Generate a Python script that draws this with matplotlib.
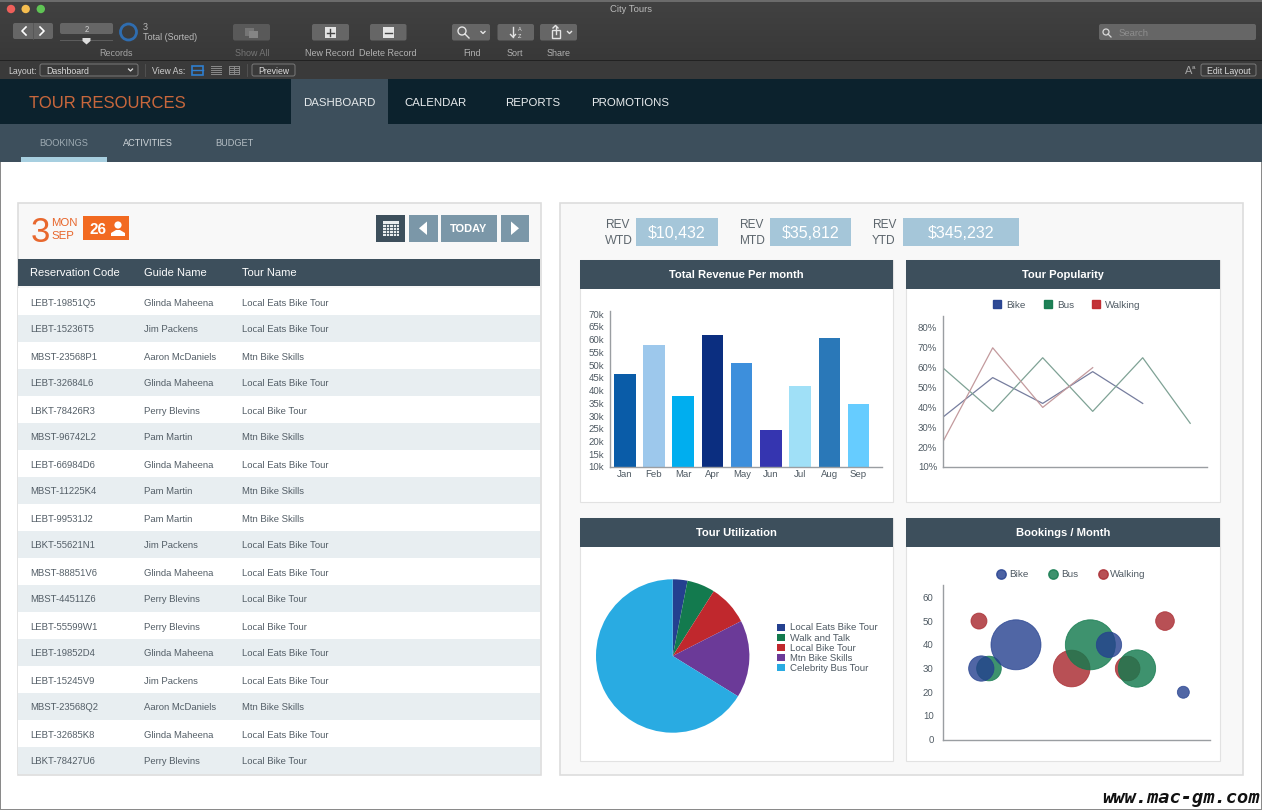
import numpy as np
import matplotlib
matplotlib.use("Agg")
import matplotlib.pyplot as plt
from matplotlib.patches import Rectangle, FancyBboxPatch, Circle, Polygon, Patch
from matplotlib.lines import Line2D

plt.rcParams['font.family'] = ['Liberation Sans', 'DejaVu Sans']
plt.rcParams['text.hinting'] = 'no_autohint'

W, H = 1262, 810

# table
res_codes = ["LEBT-19851Q5", "LEBT-15236T5", "MBST-23568P1", "LEBT-32684L6", "LBKT-78426R3", "MBST-96742L2",
             "LEBT-66984D6", "MBST-11225K4", "LEBT-99531J2", "LBKT-55621N1", "MBST-88851V6", "MBST-44511Z6",
             "LEBT-55599W1", "LEBT-19852D4", "LEBT-15245V9", "MBST-23568Q2", "LEBT-32685K8", "LBKT-78427U6"]
guides = ["Glinda Maheena", "Jim Packens", "Aaron McDaniels", "Glinda Maheena", "Perry Blevins", "Pam Martin",
          "Glinda Maheena", "Pam Martin", "Pam Martin", "Jim Packens", "Glinda Maheena", "Perry Blevins",
          "Perry Blevins", "Glinda Maheena", "Jim Packens", "Aaron McDaniels", "Glinda Maheena", "Perry Blevins"]
tours = ["Local Eats Bike Tour", "Local Eats Bike Tour", "Mtn Bike Skills", "Local Eats Bike Tour", "Local Bike Tour",
         "Mtn Bike Skills", "Local Eats Bike Tour", "Mtn Bike Skills", "Mtn Bike Skills", "Local Eats Bike Tour",
         "Local Eats Bike Tour", "Local Bike Tour", "Local Bike Tour", "Local Eats Bike Tour", "Local Eats Bike Tour",
         "Mtn Bike Skills", "Local Eats Bike Tour", "Local Bike Tour"]

# revenue bars
months = ["Jan", "Feb", "Mar", "Apr", "May", "Jun", "Jul", "Aug", "Sep"]
revenue = [46.6, 57.7, 37.7, 61.7, 50.7, 24.6, 41.7, 60.7, 34.6]
bar_colors = ["#0a5ca8", "#9dc8ec", "#00aeef", "#0b2e80", "#3d8fdc", "#3535b0", "#a0e0f7", "#2a78b8", "#66ccff"]

# popularity lines
bike_x = [0, 1, 2, 3, 4]
bike_pop = [35, 55, 42, 58, 42]
bus_x = [0, 1, 2, 3, 4, 4.95]
bus_pop = [60, 38, 65, 38, 65, 32]
walk_x = [0, 1, 2, 3]
walk_pop = [22.5, 70, 40, 60]

# pie
pie_names = ["Local Eats Bike Tour", "Walk and Talk", "Local Bike Tour", "Mtn Bike Skills", "Celebrity Bus Tour"]
pie_values = [3.1, 5.9, 8.5, 16.3, 66.2]
pie_colors = ["#24408f", "#137a4e", "#c0282d", "#6b3a98", "#29abe2"]

# bubbles
bike_bx = [11.4, 21.8, 49.7, 72.0]
bike_by = [30, 40, 40, 20]
bike_bs = [38, 75, 38, 18]
bus_bx = [13.7, 44.1, 58.1]
bus_by = [30, 40, 30]
bus_bs = [37, 75, 56]
walk_bx = [10.7, 38.5, 55.3, 66.5]
walk_by = [50, 30, 30, 50]
walk_bs = [24, 55, 37, 28]

SLATE = "#3d4f5c"
BLUEGREY = "#7b97a8"
TEXT = "#4f5a63"
AXIS = "#9a9ea2"

fig = plt.figure(figsize=(W / 100, H / 100), dpi=100, facecolor="white")
ui = fig.add_axes([0, 0, 1, 1])
ui.set_xlim(0, W)
ui.set_ylim(H, 0)
ui.axis("off")


def box(x0, y0, x1, y1, color, edge="none", lw=0.0, z=1):
    r = Rectangle((x0, y0), x1 - x0, y1 - y0, facecolor=color, edgecolor=edge, linewidth=lw, zorder=z)
    ui.add_patch(r)
    return r


def rbox(x0, y0, x1, y1, color, edge="none", lw=0.0, z=2, rad=2):
    r = FancyBboxPatch((x0 + rad, y0 + rad), x1 - x0 - 2 * rad, y1 - y0 - 2 * rad,
                       boxstyle="round,pad=%d" % rad, facecolor=color, edgecolor=edge, linewidth=lw, zorder=z)
    ui.add_patch(r)
    return r


def label(x, y, s, size=7, color=TEXT, ha="left", **kw):
    return ui.text(x, y, s, fontsize=size, color=color, ha=ha, va="center_baseline", zorder=5, **kw)


def px_axes(x0, y0, x1, y1):
    return fig.add_axes([x0 / W, 1 - y1 / H, (x1 - x0) / W, (y1 - y0) / H])


def clean_axes(ax):
    ax.patch.set_alpha(0)
    ax.spines["top"].set_visible(False)
    ax.spines["right"].set_visible(False)
    ax.spines["left"].set_color(AXIS)
    ax.spines["bottom"].set_color(AXIS)
    ax.spines["left"].set_linewidth(1.0)
    ax.spines["bottom"].set_linewidth(1.0)
    ax.tick_params(length=0, labelsize=6.9, labelcolor=TEXT, pad=4)


# window chrome
grad = np.linspace(0, 1, 60).reshape(-1, 1)
ui.imshow(grad, extent=(0, W, 60, 0), cmap=matplotlib.colors.LinearSegmentedColormap.from_list("tb", ["#424242", "#383838"]),
          aspect="auto", zorder=0)
ui.set_xlim(0, W)
ui.set_ylim(H, 0)
box(0, 0, W, 1.5, "#6b6b6b")
box(0, 60, W, 79, "#3a3a3a")
box(0, 59.5, W, 61, "#222222")
for x, c in zip([11, 25.7, 40.8], ["#ee5f5a", "#f5bd4f", "#5fc454"]):
    ui.add_patch(Circle((x, 9), 4.2, facecolor=c, zorder=3))
label(631, 9, "City Tours", 6.8, "#bdbdbd", ha="center")

# records controls
rbox(13, 23, 53, 39, "#666666")
ui.plot([33, 33], [23, 39], color="#555555", lw=0.6, zorder=3)
ui.plot([26, 22, 26], [27, 31, 35], color="white", lw=1.2, zorder=4)
ui.plot([40, 44, 40], [27, 31, 35], color="white", lw=1.2, zorder=4)
rbox(60, 23, 113, 34, "#666666")
label(86.5, 29, "2", 5.5, "#d8d8d8", ha="center")
box(60, 39.5, 113, 40.5, "#5c5c5c", z=2)
ui.add_patch(Polygon([[82.5, 38], [90.5, 38], [90.5, 41], [86.5, 44.5], [82.5, 41]], facecolor="#dddddd", zorder=4))
ui.add_patch(Circle((128.5, 32), 8, facecolor="none", edgecolor="#2f6db0", linewidth=2, zorder=4))
label(143, 27, "3", 6.5, "#bdbdbd")
label(143, 37, "Total (Sorted)", 6.5, "#bdbdbd")
label(116.5, 52, "Records", 6.5, "#a8a8a8", ha="center")

# toolbar buttons
rbox(233, 24, 270, 40.5, "#595959")
box(245, 28, 254, 36, "#757575", z=3)
box(249, 31, 258, 38, "#858585", z=3)
label(252, 52, "Show All", 6.5, "#777777", ha="center")
for x0, x1, cx, name, sign in [(312, 349, 330, "New Record", True), (370, 406.5, 388, "Delete Record", False)]:
    rbox(x0, 24, x1, 40.5, "#666666")
    box(cx - 5.5, 27, cx + 5.5, 38, "#e4e4e4", z=3)
    ui.plot([cx - 3.5, cx + 3.5], [32.5, 32.5], color="#444444", lw=1, zorder=4)
    if sign:
        ui.plot([cx, cx], [29, 36], color="#444444", lw=1, zorder=4)
    label(cx, 52, name, 6.5, "#b5b5b5", ha="center")
rbox(452, 24, 490, 40.5, "#666666")
ui.add_patch(Circle((462, 31), 4, facecolor="none", edgecolor="#e4e4e4", linewidth=1, zorder=4))
ui.plot([465, 469], [34, 38], color="#e4e4e4", lw=1, zorder=4)
ui.plot([481, 483, 485], [31.5, 33.5, 31.5], color="#e4e4e4", lw=1, zorder=4)
label(472, 52, "Find", 6.5, "#b5b5b5", ha="center")
rbox(497.5, 24, 534, 40.5, "#666666")
ui.plot([513, 513], [27, 37], color="#e4e4e4", lw=1, zorder=4)
ui.plot([510.5, 513, 515.5], [34.5, 37, 34.5], color="#e4e4e4", lw=1, zorder=4)
label(518, 29, "A", 4, "#e4e4e4")
label(518, 35.5, "Z", 4, "#e4e4e4")
label(515, 52, "Sort", 6.5, "#b5b5b5", ha="center")
rbox(540, 24, 577, 40.5, "#666666")
box(551.5, 30, 559.5, 38, "none", edge="#e4e4e4", lw=1, z=4)
ui.plot([555.5, 555.5], [26, 34], color="#e4e4e4", lw=1, zorder=5)
ui.plot([553, 555.5, 558], [28, 25.5, 28], color="#e4e4e4", lw=1, zorder=5)
ui.plot([567.5, 569.5, 571.5], [31.5, 33.5, 31.5], color="#e4e4e4", lw=1, zorder=4)
label(559, 52, "Share", 6.5, "#b5b5b5", ha="center")

# search
rbox(1099, 24, 1256, 40, "#666666")
ui.add_patch(Circle((1106, 32), 3, facecolor="none", edgecolor="#d8d8d8", linewidth=0.9, zorder=4))
ui.plot([1108, 1111], [34, 37], color="#d8d8d8", lw=0.9, zorder=4)
label(1119, 32.5, "Search", 6.8, "#8f8f8f")

# layout bar
label(8, 70, "Layout:", 6.3, "#d2d2d2")
rbox(40, 64, 138, 76, "#3a3a3a", edge="#7a7a7a", lw=0.7)
label(46, 70, "Dashboard", 6.3, "#e0e0e0")
ui.plot([128.5, 130.5, 132.5], [69, 71, 69], color="#dddddd", lw=0.9, zorder=4)
ui.plot([144.5, 144.5], [64, 76], color="#555555", lw=0.6, zorder=3)
label(152, 70, "View As:", 6.3, "#d2d2d2")
box(192, 65.5, 202.5, 74.5, "none", edge="#2f7fd0", lw=1.2, z=3)
ui.plot([192, 202.5], [70, 70], color="#2f7fd0", lw=1, zorder=3)
for y in [66, 68, 70, 72, 74]:
    ui.plot([210.5, 220.5], [y, y], color="#8a8a8a", lw=0.7, zorder=3)
    ui.plot([229, 238.5], [y, y], color="#8a8a8a", lw=0.7, zorder=3)
for x in [229, 233.7, 238.5]:
    ui.plot([x, x], [66, 74], color="#8a8a8a", lw=0.7, zorder=3)
ui.plot([246.5, 246.5], [64, 76], color="#555555", lw=0.6, zorder=3)
rbox(252, 64, 295, 76, "#3a3a3a", edge="#7a7a7a", lw=0.7)
label(273.5, 70, "Preview", 6.3, "#e0e0e0", ha="center")
label(1189, 70, "A", 8, "#aaaaaa", ha="center")
label(1193, 67, "a", 4.5, "#aaaaaa", ha="center")
rbox(1201, 64, 1256, 76, "#3a3a3a", edge="#7a7a7a", lw=0.7)
label(1228.5, 70, "Edit Layout", 6.3, "#e0e0e0", ha="center")

# navigation
box(0, 79, W, 124, "#0c222d")
box(0, 124, W, 162, SLATE)
box(291, 79, 388, 124, SLATE)
box(21, 157, 107, 162, "#a7cfe0", z=2)
label(29, 102, "TOUR RESOURCES", 12, "#c8673c")
for x, s in zip([339, 436, 533, 630], ["DASHBOARD", "CALENDAR", "REPORTS", "PROMOTIONS"]):
    label(x, 101.5, s, 8.2, "#e6eaec", ha="center")
for x, s, c in zip([64, 148, 234], ["BOOKINGS", "ACTIVITIES", "BUDGET"], ["#a0adb5", "#d3d9dc", "#b8c1c7"]):
    label(x, 142, s, 6.6, c, ha="center")

# left panel
box(17.5, 203, 540.5, 775, "#f8f8f8", edge="#dddddd", lw=1.2)
label(31, 229, "3", 25, "#e8682e")
label(51, 222, "MON", 8.2, "#e8682e")
label(51, 235, "SEP", 8.2, "#e8682e")
box(83, 216, 129, 240, "#f26a21", z=2)
label(98, 228, "26", 11, "white", ha="center", weight="bold")
ui.add_patch(Circle((118, 225), 3.6, facecolor="white", zorder=4))
ui.add_patch(Polygon([[111, 236], [125, 236], [125, 233], [120, 230], [116, 230], [111, 233]], facecolor="white", zorder=4))
box(376, 214.5, 405, 242, SLATE, z=2)
box(383, 221, 399, 236, "#e8ecee", z=3)
for x in [386.2, 389.4, 392.6, 395.8]:
    ui.plot([x, x], [224, 236], color=SLATE, lw=0.6, zorder=4)
for y in [224, 227, 230, 233]:
    ui.plot([383, 399], [y, y], color=SLATE, lw=0.6, zorder=4)
box(408.5, 214.5, 437.5, 242, BLUEGREY, z=2)
ui.add_patch(Polygon([[427, 221.5], [427, 235], [419, 228.3]], facecolor="white", zorder=4))
box(441, 214.5, 497, 242, BLUEGREY, z=2)
label(469, 228.5, "TODAY", 8, "white", ha="center", weight="bold")
box(500.5, 214.5, 529, 242, BLUEGREY, z=2)
ui.add_patch(Polygon([[511, 221.5], [511, 235], [519, 228.3]], facecolor="white", zorder=4))

box(18, 259, 540, 286, SLATE, z=2)
col_x = [30, 144, 242]
for x, s in zip(col_x, ["Reservation Code", "Guide Name", "Tour Name"]):
    label(x, 272.5, s, 8.0, "white")
for i in range(len(res_codes)):
    y = 288 + 27 * i
    box(18, y, 540, y + 27, "white" if i % 2 == 0 else "#e8eef1", z=2)
    for x, s in zip(col_x, [res_codes[i], guides[i], tours[i]]):
        label(x, y + 14, s, 6.8, TEXT)

# right panel
box(560, 203, 1243, 775, "#f8f8f8", edge="#dddddd", lw=1.2)
for x0, x1, rev, val in [(636, 718, "WTD", "$10,432"), (770, 851, "MTD", "$35,812"), (903, 1019, "YTD", "$345,232")]:
    label(x0 - 31, 224, "REV", 8.6, "#5d666d")
    label(x0 - 31, 239, rev, 8.6, "#5d666d")
    box(x0, 218, x1, 246, "#a5c6d9", z=2)
    label((x0 + x1) / 2, 232, val, 11.5, "white", ha="center")

panels = [(580, 893, 260, 502, "Total Revenue Per month"), (906, 1220, 260, 502, "Tour Popularity"),
          (580, 893, 518, 761, "Tour Utilization"), (906, 1220, 518, 761, "Bookings / Month")]
for x0, x1, y0, y1, name in panels:
    box(x0, y0, x1, y1, "white", edge="#e2e2e2", lw=0.8, z=2)
    box(x0, y0, x1, y0 + 29, SLATE, z=3)
    t = label((x0 + x1) / 2, y0 + 13.7, name, 8.1, "white", ha="center", weight="bold")
    if name in ("Tour Popularity", "Bookings / Month"):
        t.set_clip_path(Rectangle((x0, y0), x1 - x0, 19, transform=ui.transData))

# bar chart
ax = px_axes(609.5, 310.7, 882, 467)
clean_axes(ax)
ax.bar(range(len(months)), revenue, width=0.74, color=bar_colors, bottom=0)
ax.set_xlim(-0.52, 8.8)
ax.set_ylim(10, 71.3)
ax.set_xticks(range(len(months)))
ax.set_xticklabels(months, va="baseline")
ax.tick_params(axis="x", pad=7.5)
ax.set_yticks(range(10, 75, 5))
ax.set_yticklabels(["%dk" % v for v in range(10, 75, 5)])

# line chart
ax = px_axes(942.7, 316, 1206.7, 467)
clean_axes(ax)
ax.plot(bike_x, bike_pop, color="#767d9e", lw=0.9)
ax.plot(bus_x, bus_pop, color="#7fa295", lw=0.9)
ax.plot(walk_x, walk_pop, color="#c39a9d", lw=0.9)
ax.set_xlim(0, 5.28)
ax.set_ylim(10, 86)
ax.set_xticks([])
ax.set_yticks(range(10, 90, 10))
ax.set_yticklabels(["%d%%" % v for v in range(10, 90, 10)])
handles = [Patch(facecolor=c, edgecolor=c, alpha=0.95) for c in ["#24408f", "#137a4e", "#c0282d"]]
ax.legend(handles, ["Bike", "Bus", "Walking"], ncol=3, loc="center", bbox_to_anchor=(1067 / W, 1 - 305 / H),
          bbox_transform=fig.transFigure, frameon=False, fontsize=7.1, labelcolor=TEXT, handlelength=0.8, handleheight=0.8,
          handletextpad=0.55, columnspacing=1.8, borderpad=0)

# pie chart
ax = px_axes(672.7 - 76.7, 656 - 76.7, 672.7 + 76.7, 656 + 76.7)
wedges, _ = ax.pie(pie_values, colors=pie_colors, startangle=90, counterclock=False, radius=1)
ax.set_xlim(-1, 1)
ax.set_ylim(-1, 1)
ax.legend(wedges, pie_names, loc="upper left", bbox_to_anchor=(777 / W, 1 - 623.5 / H), bbox_transform=fig.transFigure,
          frameon=False, fontsize=6.9, labelcolor=TEXT, handlelength=0.8, handleheight=0.8, handletextpad=0.55,
          labelspacing=0.12, borderpad=0, borderaxespad=0)

# bubble chart
ax = px_axes(943.3, 585, 1210, 739.7)
clean_axes(ax)


def bubble_area(radii):
    return [(2 * r / 3 * 0.72) ** 2 for r in radii]


ax.scatter(walk_bx, walk_by, s=bubble_area(walk_bs), color="#a92a30", alpha=0.82, linewidths=0.6, zorder=2, clip_on=False)
ax.scatter(bus_bx, bus_by, s=bubble_area(bus_bs), color="#137a4e", alpha=0.82, linewidths=0.6, zorder=3, clip_on=False)
ax.scatter(bike_bx, bike_by, s=bubble_area(bike_bs), color="#24408f", alpha=0.8, linewidths=0.6, zorder=4, clip_on=False)
ax.set_xlim(0, 80)
ax.set_ylim(0, 65.2)
ax.set_xticks([])
ax.set_yticks(range(0, 70, 10))
ax.tick_params(pad=7)
handles = [Line2D([], [], linestyle="none", marker="o", markersize=6.8, color=c, alpha=0.82) for c in ["#24408f", "#137a4e", "#a92a30"]]
ax.legend(handles, ["Bike", "Bus", "Walking"], ncol=3, loc="center", bbox_to_anchor=(1071 / W, 1 - 574.7 / H),
          bbox_transform=fig.transFigure, frameon=False, fontsize=7.1, labelcolor=TEXT, handlelength=1.0,
          handletextpad=0.3, columnspacing=2.0, borderpad=0)

# outer edges and watermark
box(0, 162, 1.2, H, "#8a8a8a", z=6)
box(0, 808.5, W, H, "#8a8a8a", z=6)
box(W - 1.2, 162, W, H, "#8a8a8a", z=6)
ui.text(1181, 798, "www.mac-gm.com", fontsize=13.5, color="#111111", ha="center", va="center", zorder=7,
        family="DejaVu Sans Mono", style="italic", weight="bold")

fig.savefig("out.png", dpi=100)
